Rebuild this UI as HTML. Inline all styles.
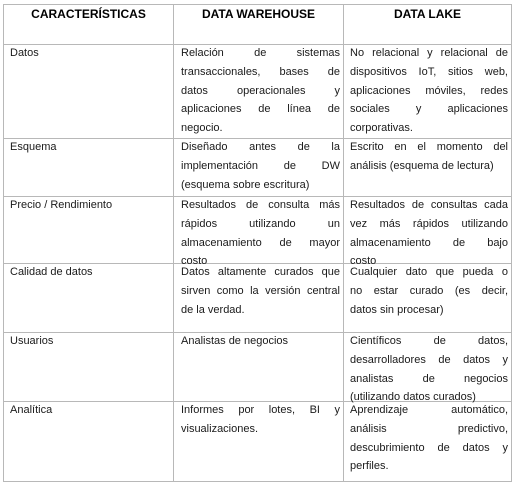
<!DOCTYPE html>
<html><head><meta charset="utf-8"><style>
body{margin:0;width:519px;height:486px;background:#fff;position:relative;overflow:hidden;font-family:"Liberation Sans","DejaVu Sans",sans-serif;font-size:11px;color:#1a1a1a}
.l{position:absolute;background:#b8b8b8}
.c{position:absolute;line-height:18.8px}
.c div{text-align:justify;text-align-last:justify;white-space:nowrap;height:18.8px}
.c div.e{text-align-last:left}
.h{position:absolute;font-weight:bold;text-align:center;font-size:12px;top:6px;line-height:16px;color:#000}
</style></head><body>
<div class="l" style="left:3px;top:4px;width:509px;height:1px"></div>
<div class="l" style="left:3px;top:44px;width:509px;height:1px"></div>
<div class="l" style="left:3px;top:138px;width:509px;height:1px"></div>
<div class="l" style="left:3px;top:196px;width:509px;height:1px"></div>
<div class="l" style="left:3px;top:263px;width:509px;height:1px"></div>
<div class="l" style="left:3px;top:332px;width:509px;height:1px"></div>
<div class="l" style="left:3px;top:401px;width:509px;height:1px"></div>
<div class="l" style="left:3px;top:481px;width:509px;height:1px"></div>
<div class="l" style="left:3px;top:4px;width:1px;height:478px"></div>
<div class="l" style="left:173px;top:4px;width:1px;height:478px"></div>
<div class="l" style="left:343px;top:4px;width:1px;height:478px"></div>
<div class="l" style="left:511px;top:4px;width:1px;height:478px"></div>

<div class="h" style="left:4px;width:169px">CARACTERÍSTICAS</div>
<div class="h" style="left:174px;width:169px">DATA WAREHOUSE</div>
<div class="h" style="left:344px;width:167px">DATA LAKE</div>

<div class="c" style="left:10px;top:44px;width:160px"><div class="e">Datos</div></div>
<div class="c" style="left:181px;top:44px;width:159px"><div>Relación de sistemas</div><div>transaccionales, bases de</div><div>datos operacionales y</div><div>aplicaciones de línea de</div><div class="e">negocio.</div></div>
<div class="c" style="left:350px;top:44px;width:158px"><div>No relacional y relacional de</div><div>dispositivos IoT, sitios web,</div><div>aplicaciones móviles, redes</div><div>sociales y aplicaciones</div><div class="e">corporativas.</div></div>

<div class="c" style="left:10px;top:138px;width:160px"><div class="e">Esquema</div></div>
<div class="c" style="left:181px;top:138px;width:159px"><div>Diseñado antes de la</div><div>implementación de DW</div><div class="e">(esquema sobre escritura)</div></div>
<div class="c" style="left:350px;top:138px;width:158px"><div>Escrito en el momento del</div><div class="e">análisis (esquema de lectura)</div></div>

<div class="c" style="left:10px;top:196px;width:160px"><div class="e">Precio / Rendimiento</div></div>
<div class="c" style="left:181px;top:196px;width:159px"><div>Resultados de consulta más</div><div>rápidos utilizando un</div><div>almacenamiento de mayor</div><div class="e">costo</div></div>
<div class="c" style="left:350px;top:196px;width:158px"><div>Resultados de consultas cada</div><div>vez más rápidos utilizando</div><div>almacenamiento de bajo</div><div class="e">costo</div></div>

<div class="c" style="left:10px;top:263px;width:160px"><div class="e">Calidad de datos</div></div>
<div class="c" style="left:181px;top:263px;width:159px"><div>Datos altamente curados que</div><div>sirven como la versión central</div><div class="e">de la verdad.</div></div>
<div class="c" style="left:350px;top:263px;width:158px"><div>Cualquier dato que pueda o</div><div>no estar curado (es decir,</div><div class="e">datos sin procesar)</div></div>

<div class="c" style="left:10px;top:332px;width:160px"><div class="e">Usuarios</div></div>
<div class="c" style="left:181px;top:332px;width:159px"><div class="e">Analistas de negocios</div></div>
<div class="c" style="left:350px;top:332px;width:158px"><div>Científicos de datos,</div><div>desarrolladores de datos y</div><div>analistas de negocios</div><div class="e">(utilizando datos curados)</div></div>

<div class="c" style="left:10px;top:401px;width:160px"><div class="e">Analítica</div></div>
<div class="c" style="left:181px;top:401px;width:159px"><div>Informes por lotes, BI y</div><div class="e">visualizaciones.</div></div>
<div class="c" style="left:350px;top:401px;width:158px"><div>Aprendizaje automático,</div><div>análisis predictivo,</div><div>descubrimiento de datos y</div><div class="e">perfiles.</div></div>
</body></html>
